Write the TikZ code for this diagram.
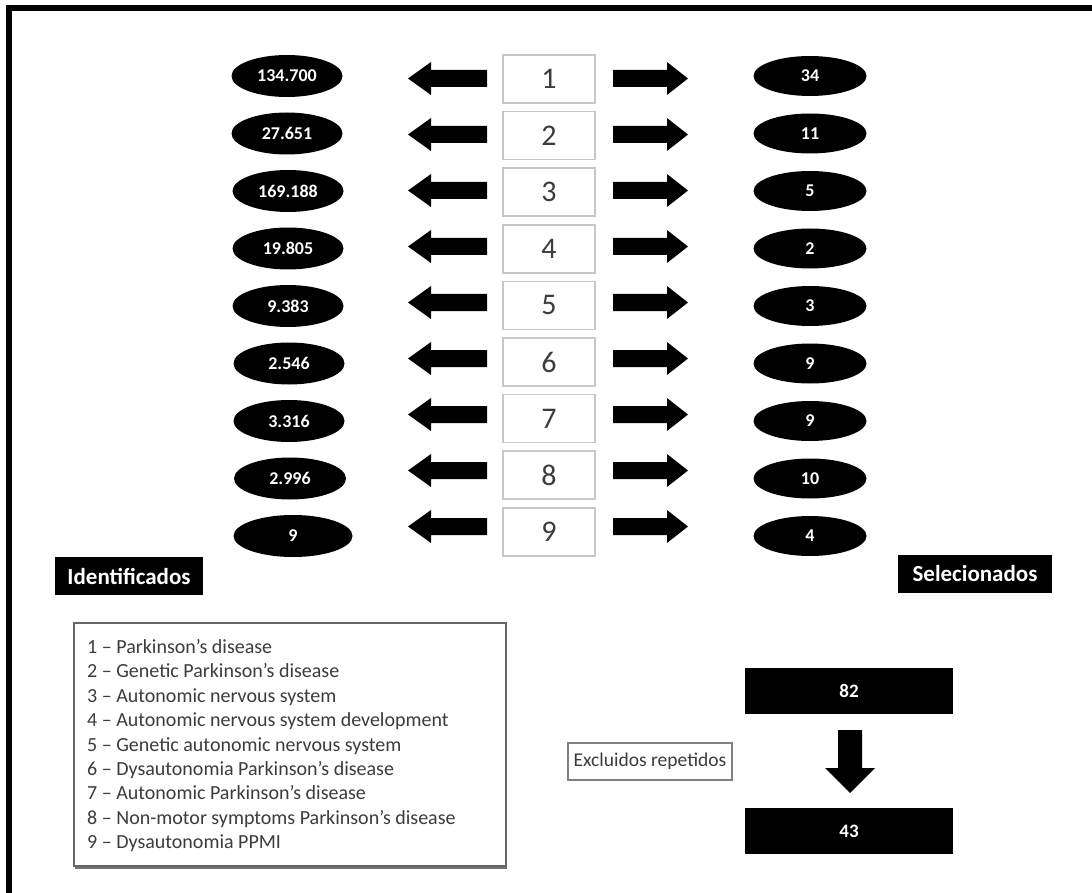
\documentclass[tikz,border=0pt]{standalone}
\usepackage{fontspec}
\setmainfont{Carlito}
\usetikzlibrary{shapes.geometric}
\definecolor{boxgray}{RGB}{200,200,200}
\definecolor{txtgray}{RGB}{60,60,60}
\begin{document}
\begin{tikzpicture}[x=1pt,y=-1pt,
  numbox/.style={draw=boxgray, line width=1.5pt, minimum width=92pt, minimum height=48pt, inner sep=0pt, text=txtgray, font=\fontsize{30}{30}\selectfont},
  oval/.style={ellipse, fill=black, minimum width=111pt, minimum height=42pt, inner sep=0pt, text=white, font=\bfseries\fontsize{18}{18}\selectfont},
  label box/.style={fill=black, inner sep=0pt, minimum height=38pt, text=white, font=\bfseries\fontsize{23}{23}\selectfont},
  total box/.style={fill=black, inner sep=0pt, minimum width=208pt, minimum height=46pt, text=white, font=\bfseries\fontsize{19}{19}\selectfont},
  legend line/.style={anchor=base west, inner sep=0pt, text=txtgray, font=\fontsize{20}{20}\selectfont},
  larrow/.pic={\fill[black] (0,0) -- (23,-16.5) -- (23,-8.5) -- (79,-8.5) -- (79,8.5) -- (23,8.5) -- (23,16.5) -- cycle;},
  rarrow/.pic={\fill[black] (0,0) -- (-21,-16.5) -- (-21,-8.5) -- (-75,-8.5) -- (-75,8.5) -- (-21,8.5) -- (-21,16.5) -- cycle;}
]
\useasboundingbox (0,0) rectangle (1092,893);
\fill[white] (0,0) rectangle (1092,893);
% frame
\draw[line width=6pt] (8.5,893) -- (8.5,8) -- (1092,8);

% rows
\foreach \i/\l/\r/\lx/\lw in {1/134.700/34/287/111, 2/27.651/11/287/111, 3/169.188/5/288/111, 4/19.805/2/288/111, 5/9.383/3/288/111, 6/2.546/9/289/111, 7/3.316/9/289/111, 8/2.996/10/290/112, 9/9/4/293/119}
{
  \pgfmathsetmacro\yb{79+56.6*(\i-1)}
  \pgfmathsetmacro\ye{76+57.5*(\i-1)}
  \pgfmathsetmacro\ya{78.5+56*(\i-1)}
  \node[numbox] (b\i) at (549,\yb) {\i};
  \node[oval, minimum width=\lw pt] (l\i) at (\lx,\ye) {\l};
  \node[oval, minimum width=113pt, minimum height=40pt] (r\i) at (810,\ye) {\r};
  \pic at (408,\ya) {larrow};
  \pic at (688,\ya) {rarrow};
}

\node[label box, minimum width=148pt] (ident) at (129,576) {Identificados};
\node[label box, minimum width=154pt] (selec) at (975,574) {Selecionados};

% legend
\fill[black!55] (75,626) rectangle (507,868.5);
\draw[draw=black!60, line width=1.2pt, fill=white] (74,623) rectangle (506,866);
\foreach \i/\t in {1/{1 – Parkinson’s disease}, 2/{2 – Genetic Parkinson’s disease}, 3/{3 – Autonomic nervous system}, 4/{4 – Autonomic nervous system development}, 5/{5 – Genetic autonomic nervous system}, 6/{6 – Dysautonomia Parkinson’s disease}, 7/{7 – Autonomic Parkinson’s disease}, 8/{8 – Non-motor symptoms Parkinson’s disease}, 9/{9 – Dysautonomia PPMI}}
{
  \pgfmathsetmacro\yl{653.5+24.4*(\i-1)}
  \node[legend line] (leg\i) at (87,\yl) {\t};
}

% totals
\node[total box] (t82) at (849,691) {82};
\node[total box] (t43) at (849,831) {43};
\fill[black] (838,730) -- (862,730) -- (862,768) -- (875,768) -- (850,793) -- (825,768) -- (838,768) -- cycle;
\node[draw=black!50, line width=1.2pt, minimum width=164pt, minimum height=37pt, inner sep=0pt, text=txtgray, font=\fontsize{19.5}{19.5}\selectfont] (excl) at (650,761.5) {Excluidos repetidos};
\end{tikzpicture}
\end{document}
